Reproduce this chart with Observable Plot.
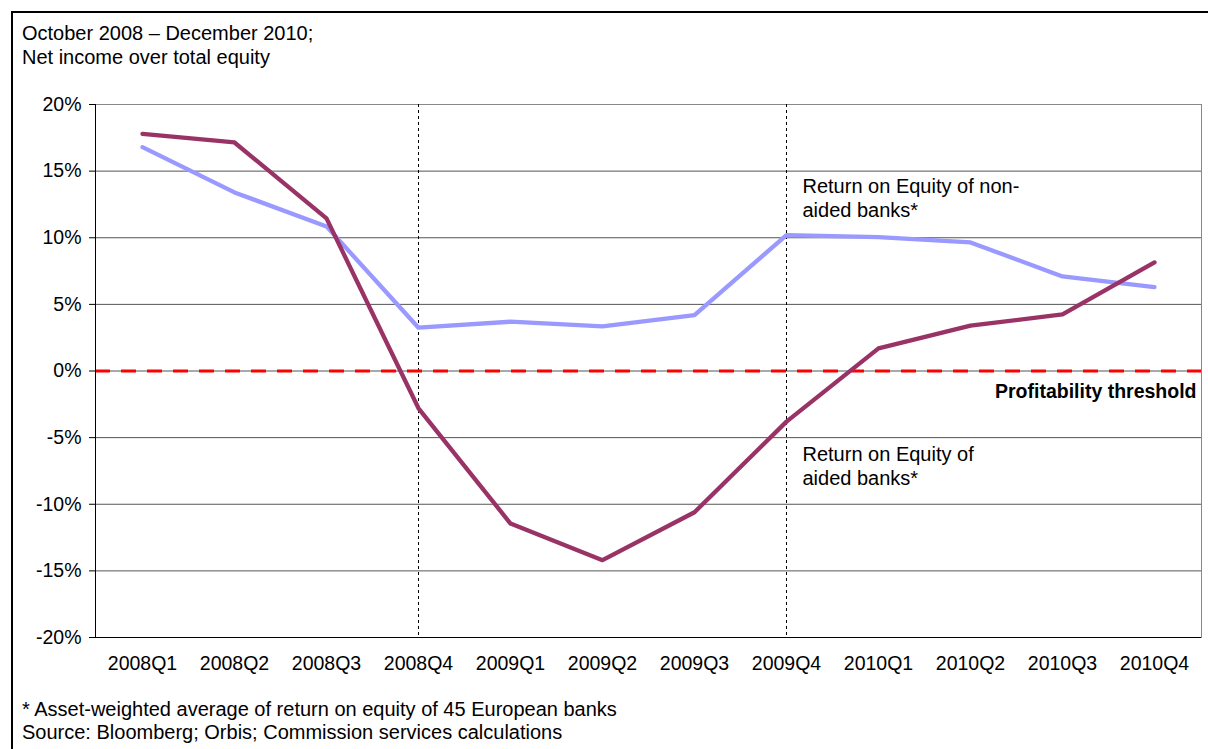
<!DOCTYPE html>
<html>
<head>
<meta charset="utf-8">
<script src="https://cdn.jsdelivr.net/npm/d3@7"></script>
<script src="https://cdn.jsdelivr.net/npm/@observablehq/plot@0.6"></script>
<style>
  html, body { margin: 0; padding: 0; background: #fff; }
  body { width: 1208px; height: 749px; overflow: hidden; position: relative;
         font-family: "Liberation Sans", Arial, sans-serif; color: #000; }
  #frame { position: absolute; left: 11px; top: 11px; width: 1300px; height: 800px;
           border-left: 2px solid #000; border-top: 2px solid #000; }
  #title { position: absolute; left: 22px; top: 21px; font-size: 20px; line-height: 24px; }
  #chart { position: absolute; left: 0; top: 88px; }
  #foot { position: absolute; left: 22px; top: 698px; font-size: 20px; line-height: 23px; }
</style>
</head>
<body>
<div id="frame"></div>
<div id="title">October 2008 – December 2010;<br>Net income over total equity</div>
<div id="chart"></div>
<div id="foot">* Asset-weighted average of return on equity of 45 European banks<br>Source: Bloomberg; Orbis; Commission services calculations</div>
<script>
const quarters = ["2008Q1","2008Q2","2008Q3","2008Q4","2009Q1","2009Q2","2009Q3","2009Q4","2010Q1","2010Q2","2010Q3","2010Q4"];
const nonAided = [16.8, 13.4, 10.85, 3.25, 3.7, 3.35, 4.2, 10.2, 10.05, 9.65, 7.1, 6.3];
const aided = [17.8, 17.15, 11.45, -2.8, -11.45, -14.2, -10.6, -3.8, 1.7, 3.4, 4.25, 8.15];
const yTicks = [-20, -15, -10, -5, 0, 5, 10, 15, 20];
const markerQuarters = ["2008Q4", "2009Q4"];
const labels = [
  {q: "2009Q4", v: 14.65, text: "Return on Equity of non-\naided banks*"},
  {q: "2009Q4", v: -5.5, text: "Return on Equity of\naided banks*"}
];

const rowsNon = quarters.map((q, i) => ({q, v: nonAided[i]}));
const rowsAid = quarters.map((q, i) => ({q, v: aided[i]}));

const chart = Plot.plot({
  width: 1208,
  height: 602,
  marginLeft: 95,
  marginRight: 7,
  marginTop: 16,
  marginBottom: 53,
  style: {fontFamily: '"Liberation Sans", Arial, sans-serif', fontSize: "19.5px", color: "#000", background: "transparent"},
  x: {type: "point", domain: quarters, padding: 0.5},
  y: {domain: [-20, 20]},
  marks: [
    Plot.ruleY(yTicks, {stroke: "#555", strokeWidth: 1}),
    Plot.frame({stroke: "#888", strokeWidth: 1}),
    Plot.ruleX(markerQuarters, {stroke: "#000", strokeWidth: 1, strokeDasharray: "3,3"}),
    Plot.ruleY([0], {stroke: "#ff0000", strokeWidth: 3, strokeDasharray: "15,11"}),
    Plot.line(rowsNon, {x: "q", y: "v", stroke: "#9999ff", strokeWidth: 4.3}),
    Plot.line(rowsAid, {x: "q", y: "v", stroke: "#993366", strokeWidth: 4.3}),
    Plot.text(labels, {x: "q", y: "v", text: "text", dx: 16, textAnchor: "start", lineAnchor: "top", lineHeight: 1.2, fontSize: 20, fill: "#000"}),
    Plot.text([0], {y: d => d, text: () => "Profitability threshold", frameAnchor: "right", dx: -5, dy: 21, textAnchor: "end", fontWeight: "bold", fontSize: 19.5, fill: "#000"}),
    Plot.ruleY([-20], {stroke: "#000", strokeWidth: 1}),
    Plot.frame({anchor: "left", stroke: "#000", strokeWidth: 1}),
    Plot.axisY({ticks: yTicks, tickFormat: d => d + "%", tickSize: 6, tickPadding: 8, label: null, stroke: "#000", fontSize: 19.5}),
    Plot.axisX({tickSize: 0, tickPadding: 19, label: null, fontSize: 19.5})
  ]
});
document.getElementById("chart").appendChild(chart);
</script>
</body>
</html>
